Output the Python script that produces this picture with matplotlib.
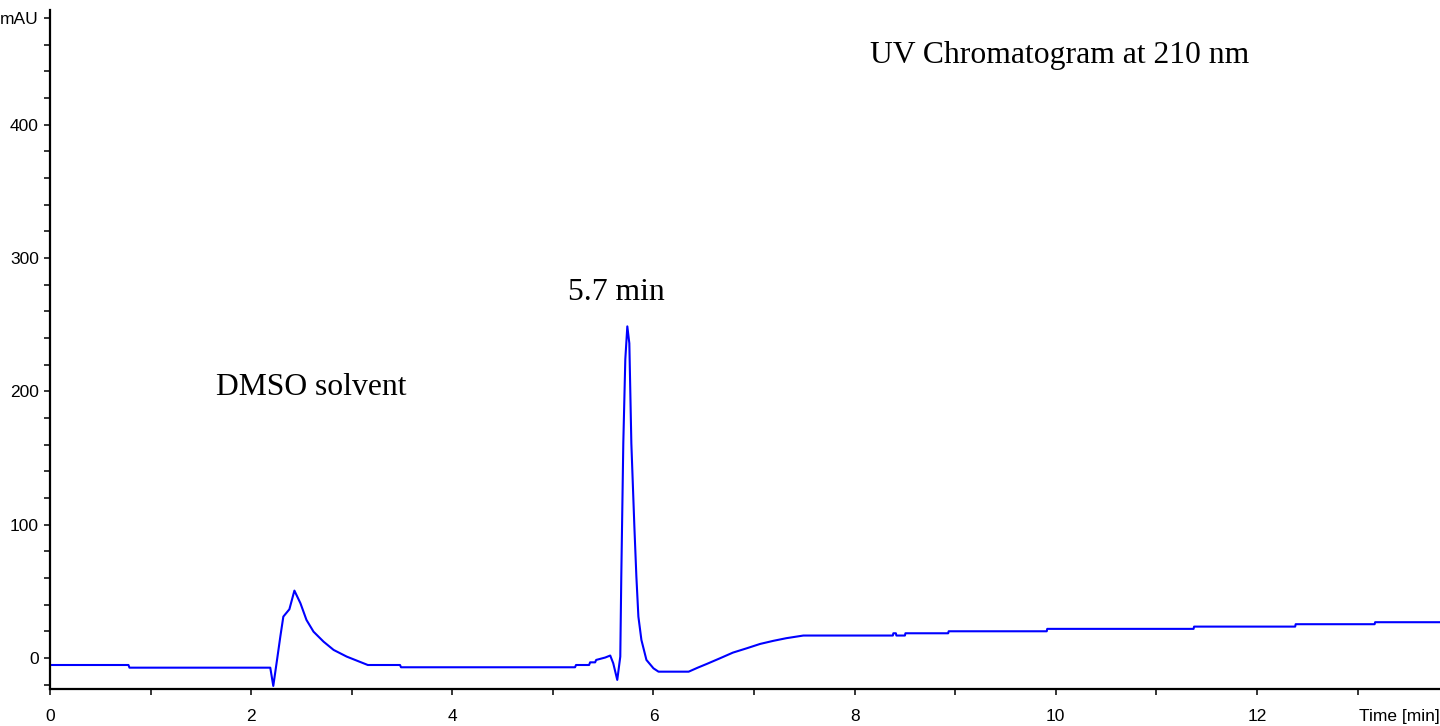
import matplotlib
matplotlib.use("Agg")
import matplotlib.pyplot as plt
from matplotlib import font_manager
from matplotlib.ticker import MultipleLocator, FixedLocator, FixedFormatter

# retention time (min) and absorbance (mAU)
time_min = [
    0.00, 0.78, 0.79, 2.19, 2.22, 2.26, 2.29, 2.32, 2.38, 2.43,
    2.49, 2.55, 2.62, 2.72, 2.82, 2.95, 3.05, 3.16, 3.48, 3.49,
    5.22, 5.23, 5.36, 5.37, 5.42, 5.43, 5.52, 5.57, 5.60, 5.64,
    5.67, 5.68, 5.70, 5.72, 5.74, 5.76, 5.78, 5.81, 5.83, 5.85,
    5.88, 5.93, 6.00, 6.05, 6.35, 6.44, 6.53, 6.66, 6.79, 6.93,
    7.06, 7.19, 7.32, 7.49, 8.38, 8.385, 8.41, 8.415, 8.50, 8.505,
    8.93, 8.935, 9.91, 9.915, 11.37, 11.375, 12.38, 12.385, 13.17, 13.175,
    13.82,
]
mau = [
    -5.3, -5.3, -7.3, -7.3, -21.0, 0.0, 16.0, 31.0, 36.5, 50.5,
    41.0, 28.5, 19.7, 12.2, 6.0, 1.0, -2.0, -5.3, -5.3, -7.0,
    -7.0, -5.3, -5.3, -3.3, -3.3, -1.5, 0.3, 1.8, -4.0, -16.5,
    1.0, 61.0, 161.0, 224.0, 248.7, 236.0, 161.0, 98.6, 61.0, 31.0,
    13.5, -1.5, -7.8, -10.3, -10.3, -7.3, -4.5, -0.3, 4.0, 7.3,
    10.5, 12.8, 14.8, 16.8, 16.8, 18.5, 18.5, 16.8, 16.8, 18.5,
    18.5, 20.0, 20.0, 21.8, 21.8, 23.5, 23.5, 25.3, 25.3, 26.8,
    26.8,
]

y_major = [0, 100, 200, 300, 400, 480]
y_labels = ["0", "100", "200", "300", "400", "mAU"]

names = {f.name for f in font_manager.fontManager.ttflist}
tick_font = "Liberation Sans Narrow" if "Liberation Sans Narrow" in names else "Liberation Sans"
tick_size = 13 if tick_font == "Liberation Sans Narrow" else 12.5
serif = ["Liberation Serif", "DejaVu Serif"]

fig = plt.figure(figsize=(14.4, 7.26), dpi=100)
ax = fig.add_axes([50 / 1440, 37 / 726, 1390 / 1440, 679 / 726])

ax.plot(time_min, mau, color="#0000FF", linewidth=1.5)

ax.set_xlim(0, 13.82)
ax.set_ylim(-23.3, 486)

for side in ("top", "right"):
    ax.spines[side].set_visible(False)
for side in ("left", "bottom"):
    ax.spines[side].set_linewidth(1.6)

ax.xaxis.set_major_locator(MultipleLocator(2))
ax.xaxis.set_minor_locator(MultipleLocator(1))
ax.yaxis.set_major_locator(FixedLocator(y_major))
ax.yaxis.set_major_formatter(FixedFormatter(y_labels))
ax.yaxis.set_minor_locator(MultipleLocator(20))

ax.tick_params(which="both", direction="out", length=4.5, width=1.1, color="black")
ax.tick_params(axis="x", which="major", pad=10)
ax.tick_params(axis="y", which="major", pad=3.5)
for lab in ax.get_xticklabels() + ax.get_yticklabels():
    lab.set_family(tick_font)
    lab.set_fontsize(tick_size)

ax.text(1.0, -0.040, "Time [min]", transform=ax.transAxes, ha="right", va="center",
        family=tick_font, fontsize=tick_size)

ax.text(8.15, 446.4, "UV Chromatogram at 210 nm", family=serif, fontsize=22.8,
        ha="left", va="baseline")
ax.text(5.15, 268.8, "5.7 min", family=serif, fontsize=22.8, ha="left", va="baseline")
ax.text(1.65, 197.4, "DMSO solvent", family=serif, fontsize=22.8, ha="left", va="baseline")

fig.savefig("out.png", dpi=100)
plt.close(fig)
